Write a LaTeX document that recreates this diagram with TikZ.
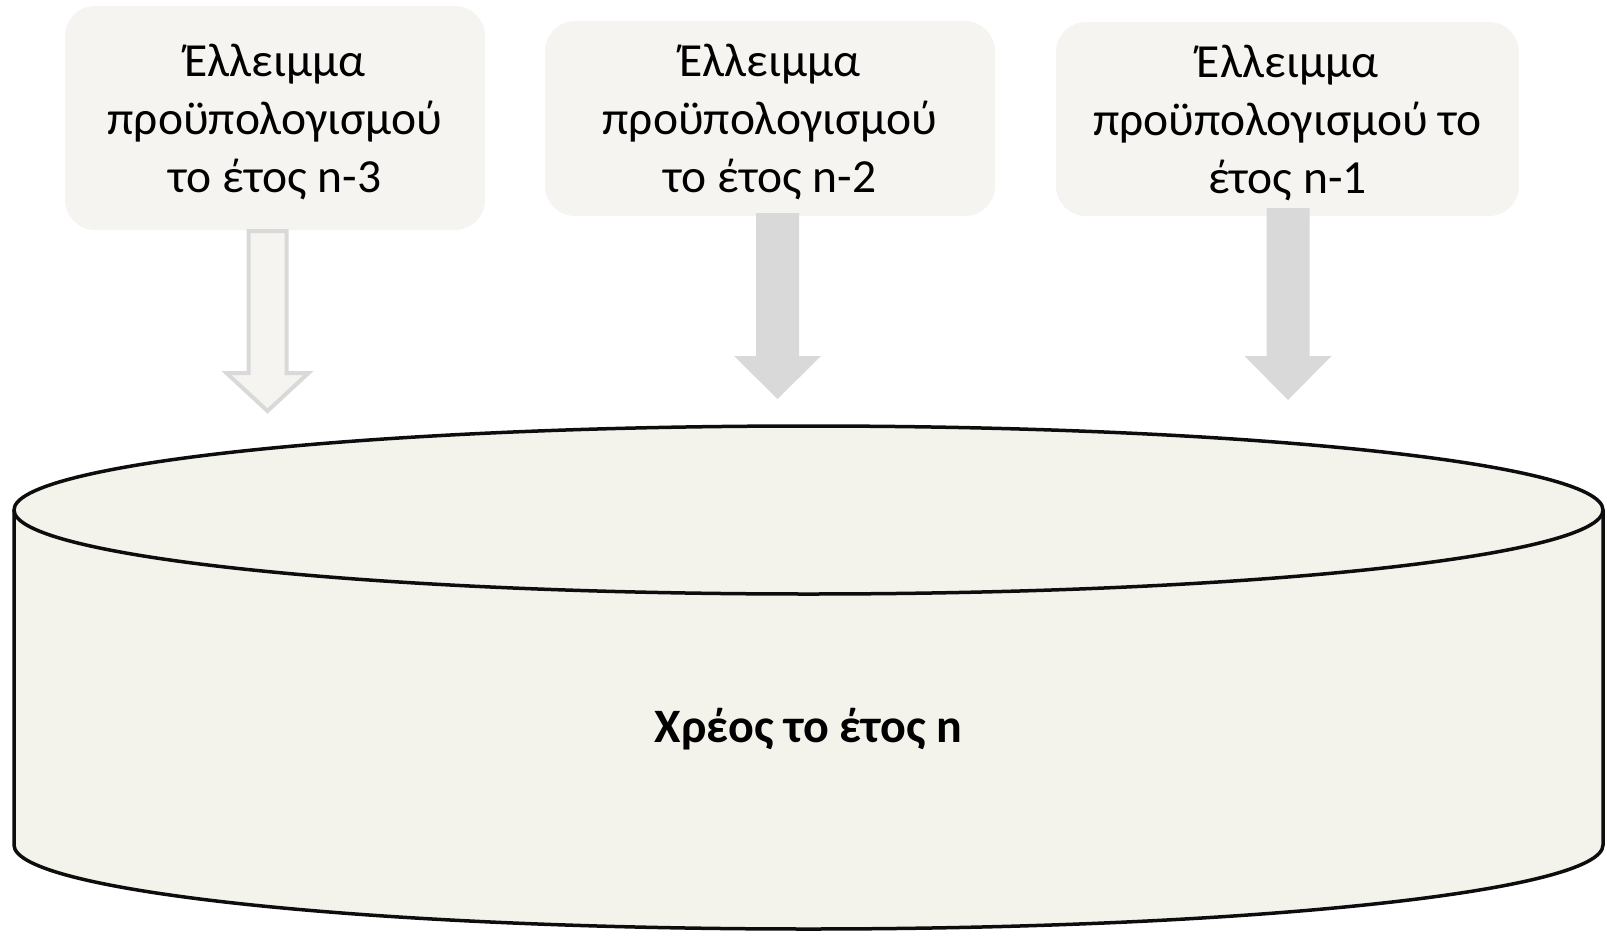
\documentclass[tikz,border=0pt]{standalone}
\usepackage{fontspec}
\setmainfont{Carlito}
\definecolor{boxfill}{HTML}{F5F4F0}
\definecolor{cylfill}{HTML}{F3F3EC}
\definecolor{arrowgray}{HTML}{D9D9D9}
\begin{document}
\begin{tikzpicture}[x=1pt,y=-1pt,
    deficit/.style={fill=boxfill, rounded corners=30pt, align=center, inner sep=0pt,
      text depth=0pt, font=\fontsize{47.5}{58}\selectfont},
    solidarrow/.style={fill=arrowgray},
    hollowarrow/.style={draw=arrowgray, fill=boxfill, line width=4pt, line join=miter},
    rim/.style={draw=black!95, line width=3.5pt}]
    \useasboundingbox (0,0) rectangle (1607,937);
    % debt stock
    \fill[cylfill] (14,510) -- (14,845) arc[start angle=180, end angle=0, x radius=794.5, y radius=84] -- (1603,510) -- cycle;
    \draw[rim] (14,510) -- (14,845) arc[start angle=180, end angle=0, x radius=794.5, y radius=84] -- (1603,510);
    \filldraw[rim, fill=cylfill] (808.5,510) ellipse[x radius=794.5, y radius=84];
    \node[font=\fontsize{48}{58}\selectfont\bfseries] (debt) at (808.5,729) {Χρέος το έτος n};
    % yearly deficits
    \node[deficit, minimum width=420pt, minimum height=224pt] (d3) at (275,118) {Έλλειμμα\\προϋπολογισμού\\το έτος n-3};
    \node[deficit, minimum width=450pt, minimum height=195pt] (d2) at (770,118.5) {Έλλειμμα\\προϋπολογισμού\\το έτος n-2};
    \node[deficit, minimum width=463pt, minimum height=194pt] (d1) at (1287.5,119) {Έλλειμμα\\προϋπολογισμού το\\έτος n-1};
    \coordinate (a3) at (267.5,231);
    \coordinate (a2) at (777.5,213);
    \coordinate (a1) at (1288,208);
    \draw[hollowarrow] (a3) ++(-19,0) -- ++(0,142) -- ++(-22,0) -- ++(41,38) -- ++(41,-38) -- ++(-22,0) -- ++(0,-142) -- cycle;
    \fill[solidarrow] (a2) ++(-21.5,0) -- ++(0,143) -- ++(-22,0) -- ++(43.5,43) -- ++(43.5,-43) -- ++(-22,0) -- ++(0,-143) -- cycle;
    \fill[solidarrow] (a1) ++(-21.5,0) -- ++(0,148) -- ++(-22,0) -- ++(43.5,44) -- ++(43.5,-44) -- ++(-22,0) -- ++(0,-148) -- cycle;
\end{tikzpicture}
\end{document}
